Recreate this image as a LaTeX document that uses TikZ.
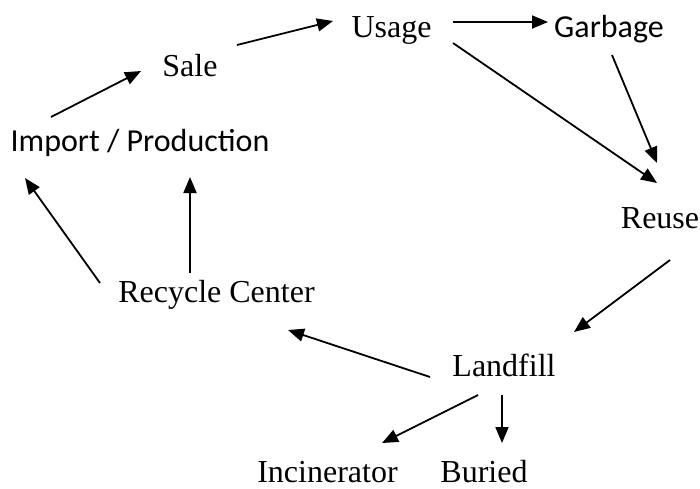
\documentclass[tikz,border=0pt]{standalone}
\usepackage{fontspec}
\setmainfont{Liberation Serif}
\newfontfamily\calfont{Carlito}
\usetikzlibrary{arrows.meta,calc}
\tikzset{
  lbl/.style={inner sep=0pt, anchor=base, font=\fontsize{32}{36}\selectfont},
  lblsans/.style={lbl, font=\fontsize{32}{36}\selectfont\calfont},
  arr/.style={line width=1.8pt, -{Triangle[length=16pt,width=13pt]}}
}
\begin{document}
\begin{tikzpicture}[x=1pt,y=-1pt]
\useasboundingbox (0,0) rectangle (700,488);
\node[lblsans] (imp) at (140,151) {Import / Production};
\node[lbl] (sale) at (190,76) {Sale};
\node[lbl] (usage) at (391.5,37) {Usage};
\node[lblsans] (garb) at (609,37) {Garbage};
\node[lbl] (reuse) at (660,228) {Reuse};
\node[lbl] (rec) at (216.5,302) {Recycle Center};
\node[lbl] (land) at (504,376) {Landfill};
\node[lbl] (inc) at (327.5,482) {Incinerator};
\node[lbl] (bur) at (484,482) {Buried};

\draw[arr] ($(imp.base)+(-89,-34)$) -- ($(sale.base)+(-49,-5)$);
\draw[arr] ($(sale.base)+(47,-31)$) -- ($(usage.base)+(-58.5,-16)$);
\draw[arr] ($(usage.base)+(61.5,-15)$) -- ($(garb.base)+(-61,-15)$);
\draw[arr] ($(usage.base)+(61.5,6)$) -- ($(reuse.base)+(-3,-45)$);
\draw[arr] ($(garb.base)+(3,18)$) -- ($(reuse.base)+(-3,-65)$);
\draw[arr] ($(reuse.base)+(10,32)$) -- ($(land.base)+(70,-44)$);
\draw[arr] ($(land.base)+(-74,1)$) -- ($(rec.base)+(71.5,28)$);
\draw[arr] ($(rec.base)+(-116.5,-19)$) -- ($(imp.base)+(-115,27)$);
\draw[arr] ($(rec.base)+(-26.5,-29)$) -- ($(imp.base)+(50,26)$);
\draw[arr] ($(land.base)+(-26,19)$) -- ($(inc.base)+(54.5,-39)$);
\draw[arr] ($(land.base)+(-2,19)$) -- ($(bur.base)+(18,-39)$);
\end{tikzpicture}
\end{document}
